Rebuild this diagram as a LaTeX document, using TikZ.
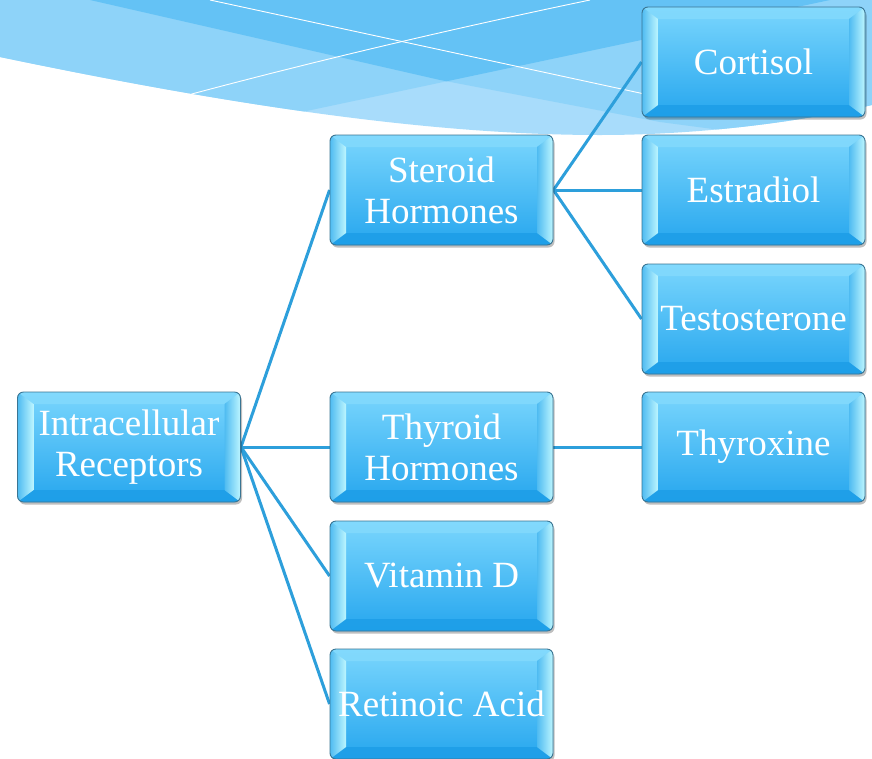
\documentclass[tikz,border=0pt]{standalone}
\usepackage{fontspec}
\setmainfont{Liberation Serif}
\usetikzlibrary{calc,shadows}
\definecolor{bnLight}{HTML}{A8DCFB}
\definecolor{bnMid}{HTML}{8ED3F9}
\definecolor{bnDark}{HTML}{64C2F5}
\definecolor{faceTop}{HTML}{7AD6FD}
\definecolor{faceBot}{HTML}{26A6EE}
\definecolor{edgeCol}{HTML}{3A7593}
\definecolor{lineCol}{HTML}{2D9FDB}
\definecolor{hiCol}{HTML}{BDF6FF}
\definecolor{sideCol}{HTML}{4FBBF1}
\definecolor{topBev}{HTML}{86DBFD}
\definecolor{botBev}{HTML}{1C9DE7}
\pgfdeclarelayer{banner}
\pgfdeclarelayer{lines}
\pgfsetlayers{banner,lines,main}
\tikzset{
  hbox/.style={rectangle, rounded corners=6pt, minimum width=223pt, minimum height=110pt,
    inner sep=0pt, text=white, font=\fontsize{37}{41}\selectfont, align=center,
    draw=edgeCol, line width=0.9pt, top color=faceTop, bottom color=faceBot,
    drop shadow={shadow xshift=1.5pt, shadow yshift=-2.5pt, opacity=0.25, fill=black},
    path picture={
      \begin{scope}[sharp corners]
      \coordinate (bNW) at (path picture bounding box.north west);
      \coordinate (bNE) at (path picture bounding box.north east);
      \coordinate (bSW) at (path picture bounding box.south west);
      \coordinate (bSE) at (path picture bounding box.south east);
      \coordinate (iNW) at ($(bNW)+(16,12)$);
      \coordinate (iNE) at ($(bNE)+(-16,12)$);
      \coordinate (iSW) at ($(bSW)+(16,-12)$);
      \coordinate (iSE) at ($(bSE)+(-16,-12)$);
      \fill[topBev, fill opacity=0.7] (bNW) -- (bNE) -- (iNE) -- (iNW) -- cycle;
      \fill[botBev, fill opacity=0.8] (bSW) -- (bSE) -- (iSE) -- (iSW) -- cycle;
      \shade[left color=sideCol, right color=hiCol] (bNW) -- (iNW) -- (iSW) -- (bSW) -- cycle;
      \shade[left color=sideCol, right color=hiCol] (bNE) -- (iNE) -- (iSE) -- (bSE) -- cycle;
      \end{scope}
    }},
  link/.style={draw=lineCol, line width=3pt},
  wline/.style={draw=white, line width=0.9pt}
}
\begin{document}
\begin{tikzpicture}[x=1pt, y=-1pt]
\useasboundingbox (0,0) rectangle (872,758);

\begin{pgfonlayer}{banner}
\fill[white] (0,0) rectangle (872,758);
\begin{scope}
  \clip (0,0) -- (0,57) .. controls (230,105) and (430,135) .. (600,135)
        .. controls (700,135) and (800,122) .. (872,105) -- (872,0) -- cycle;
  \fill[bnLight] (0,0) rectangle (872,140);
  \fill[bnMid] (90,0) -- (440,80) -- (660,122) -- (872,150) -- (872,0) -- cycle;
  \fill[bnMid] (0,176) -- (830,0) -- (0,0) -- cycle;
  \begin{scope}
    \clip (90,0) -- (440,80) -- (660,122) -- (872,150) -- (872,0) -- cycle;
    \fill[bnDark] (0,176) -- (830,0) -- (0,0) -- cycle;
  \end{scope}
  \draw[wline] (210,0) -- (700,106);
  \draw[wline] (188,95) .. controls (330,57) and (470,25) .. (590,0);
\end{scope}
\end{pgfonlayer}

\node[hbox] (ir) at (129,447) {Intracellular\\Receptors};
\node[hbox] (sh) at (441.5,190) {Steroid\\Hormones};
\node[hbox] (th) at (441.5,447) {Thyroid\\Hormones};
\node[hbox] (vd) at (441.5,576) {Vitamin D};
\node[hbox] (ra) at (441.5,704) {Retinoic Acid};
\node[hbox] (co) at (753.5,62) {Cortisol};
\node[hbox] (es) at (753.5,190) {Estradiol};
\node[hbox] (te) at (753.5,319) {Testosterone};
\node[hbox] (tx) at (753.5,447) {Thyroxine};

\begin{pgfonlayer}{lines}
  \draw[link] (ir.east) -- (sh.west);
  \draw[link] (ir.east) -- (th.west);
  \draw[link] (ir.east) -- (vd.west);
  \draw[link] (ir.east) -- (ra.west);
  \draw[link] (sh.east) -- (co.west);
  \draw[link] (sh.east) -- (es.west);
  \draw[link] (sh.east) -- (te.west);
  \draw[link] (th.east) -- (tx.west);
\end{pgfonlayer}
\end{tikzpicture}
\end{document}
